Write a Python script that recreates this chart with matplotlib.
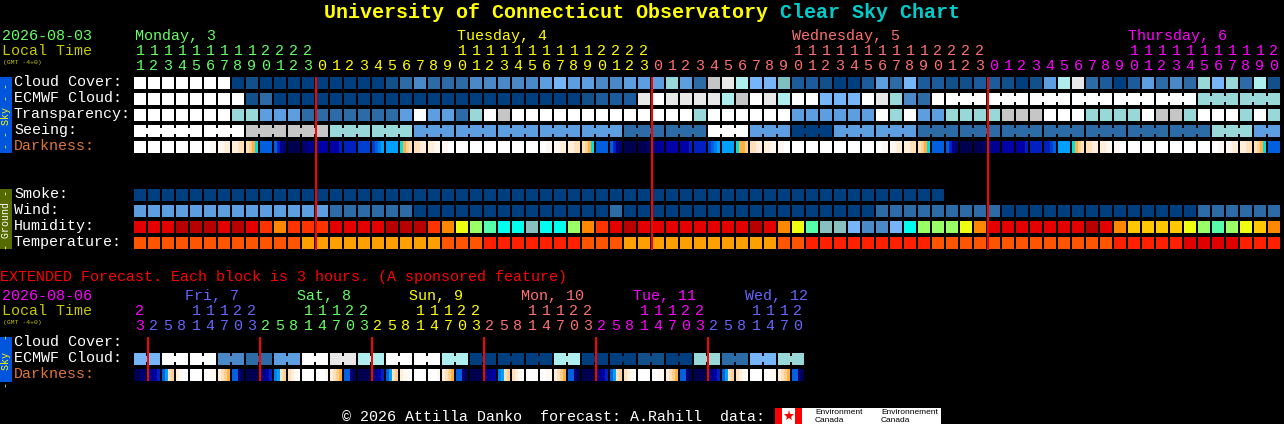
import matplotlib
matplotlib.use("Agg")
import matplotlib.pyplot as plt

plt.rcParams['font.family'] = ['Liberation Mono', 'DejaVu Sans Mono']

#---------------- colours of the blocks -----------------#
block_colours = {
    'A': '#003f7f', 'B': '#12508c', 'C': '#1c5c9c', 'D': '#2c6ba6', 'E': '#4a88c8',
    'F': '#5c9ee0', 'G': '#77b5f9', 'H': '#99d8d8', 'I': '#aeeeee', 'J': '#e8e8e8',
    'K': '#c6c6c6', 'L': '#7fbfbf', 'W': '#ffffff',
    'm': '#b80000', 'n': '#e40000', 'o': '#ff3300', 'p': '#ff8800', 'q': '#ffc800',
    'y': '#eeff11', 'l': '#99ff66', 'k': '#55ffaa', 'c': '#00ffee', 't': '#88c0c0',
    'u': '#ff5500', 'v': '#ffa000', 'x': '#ff2000', 'z': '#e00000',
}
dark_colours = {
    '0': '#ffffff', '1': '#fff8f0', '2': '#ffeeda', '3': '#ffe0bb', '4': '#ffd090',
    '5': '#ffb040', '6': '#00e0e0', '7': '#00a0ff', '8': '#0080f0', '9': '#0060e0',
    'a': '#0040d0', 'b': '#0020c0', 'c': '#0000a8', 'd': '#000090', 'e': '#000070',
    'f': '#000050',
}

#---------------- hourly forecast -----------------#
cloud_cover = ("WWWWWWWABA" "AAAAAAAABD" "EDDDEEEEEF" "GFFEEFFFHF" "DKJIGGLCCB"
               "AACFDGCCBB" "CCBABFIJDC" "ACFDEDHGHD" "IB")
ecmwf_cloud = ("WWWWWWWWBD" "AAAAAAAAAA" "AAAAAAAAAA" "AABCCCJWJJ" "JJIKWJIWWG"
               "GGWJHEDWWW" "WWWWWWWWWW" "WWWWWWHHHH" "HH")
transparency = ("WWWWWWWHHF" "FFDDDDDDDF" "WFFDHWKWWW" "WWWWWWWWWW" "HWWWWWWFFF"
                "FFFWHWFFHH" "HHKKKWWWHH" "HHWKKHWWWH" "WH")
seeing = ("WWWWWWWWKK" "KKKKHHHHHH" "FFFFFFFFFF" "FFFFFDDDDD" "DWWWFFFAAA"
          "FFFFFFDDDD" "DDDDDDDDDD" "DDDDDDDHHH" "FF")
smoke = "A" * 58
wind = ("FFFFFFFFFF" "FFFFDDDDDD" "AAAAAAAAAA" "AAAADAAAAA" "AAAAAAAAAA"
        "AAADDDDDDD" "DDAAAAAAAA" "AAAAAADDDD" "DD")
humidity = ("nnnmmmnmno" "pooonnnnmm" "mopylkcctc" "clponmnnnn" "nnnnmnpykt"
            "tGEEGcllly" "pnnnnnnnmn" "pqqqqylkly" "qp")
temperature = ("uuuuuuuuuu" "uuvvvvvvvv" "vvuuuxxxxx" "xxuuuvvvvv" "vvvvvvuuxx"
               "xxxxxxxuuu" "uuuuuuuuuu" "xxxxxzzzzx" "xx")
darkness = ["0000", "0000", "0000", "0000", "0000", "0011", "1122", "2233", "3456", "9999",
            "9bde", "ffff", "eedd", "dccc", "cccb", "bbbb", "aaaa", "a987", "7777", "6543",
            "3322", "2211", "1100", "0000", "0000", "0000", "0000", "0000", "0000", "0011",
            "1122", "2233", "3456", "9999", "9bde", "ffff", "fffe", "dddc", "cccc", "cccb",
            "bbbb", "a987", "7777", "6554", "3322", "2211", "1100", "0000", "0000", "0000",
            "0000", "0000", "0000", "0011", "1122", "2233", "3456", "9999", "9bde", "ffff",
            "fffe", "dddd", "cccc", "cccb", "bbbb", "bba9", "7777", "6543", "3322", "2211",
            "1100", "0000", "0000", "0000", "0000", "0000", "0000", "0011", "1122", "2233",
            "3456", "9999"]

# first column of each linked run of blocks
seeing_links = [0, 2, 5, 8, 11, 14, 17, 20, 23, 26, 29, 32, 35, 38, 41, 44, 47, 50, 53, 56,
                59, 62, 65, 68, 71, 74, 77, 80]
ecmwf_links = [58, 61, 64, 67, 70, 73, 76, 79]

hour_midnights = [13, 37, 61]
hour_tens = "111111111" "2222" "          11111111112222" "          11111111112222" "          11111111112"
hour_units = "1234567890123" "012345678901234567890123" "012345678901234567890123" "012345678901234567890"
hour_day_runs = [(13, '#66ff66'), (24, '#ffff00'), (24, '#ff7070'), (21, '#ff00ff')]
day_names = ["Monday, 3", "Tuesday, 4", "Wednesday, 5", "Thursday, 6"]
day_x = [135, 457, 792, 1128]
day_colours = ['#66ff66', '#ffff00', '#ff7070', '#ff00ff']

#---------------- extended forecast -----------------#
ext_ecmwf = "GWWEDFWJIWWIAAAIAABAHDGH"
ext_darkness = ["ffee", "ddcb", "9734", "2100", "0000", "0011", "2345", "99ef",
                "ffff", "edcb", "8734", "3210", "0000", "0001", "2345", "99ef",
                "ffff", "edcb", "9734", "2110", "0000", "0001", "2345", "99ef",
                "ffff", "eddc", "8734", "3210", "0000", "0011", "2345", "99ef",
                "ffff", "edcb", "9734", "3210", "0000", "0011", "2345", "99ef",
                "ffff", "edcb", "9734", "3210", "0000", "0011", "2345", "99ef"]
ext_midnights = [1, 9, 17, 25, 33, 41]
ext_tens = "2" + "   11122" * 5 + "   1112"
ext_units = "3" + "25814703" * 5 + "2581470"
ext_day_runs = [(1, '#ff00ff'), (8, '#6666ff'), (8, '#66ff66'), (8, '#ffff00'),
                (8, '#ff7070'), (8, '#ff00ff'), (7, '#6666ff')]
ext_names = ["Fri, 7", "Sat, 8", "Sun, 9", "Mon, 10", "Tue, 11", "Wed, 12"]
ext_x = [185, 297, 409, 521, 633, 745]
ext_colours = ['#6666ff', '#66ff66', '#ffff00', '#ff7070', '#ff00ff', '#6666ff']

#---------------- layout -----------------#
LEFT = 134
PITCH = 14
SIZE = 12
FS = 10.8

fig = plt.figure(figsize=(12.84, 4.24), dpi=100, facecolor='black')
ax = fig.add_axes([0, 0, 1, 1])
ax.set_xlim(0, 1284)
ax.set_ylim(424, 0)
ax.axis('off')


def box(x, y, w, h, colour):
    ax.bar(x, h, width=w, bottom=y, align='edge', color=colour, linewidth=0)


def row(values, top):
    for i, v in enumerate(values):
        box(LEFT + i * PITCH, top, SIZE, SIZE, block_colours[v])


def links(values, top, starts, run=3):
    # little bridge over the gap between blocks of one forecast step
    for s in starts:
        for i in range(s, s + run - 1):
            if i + 1 < len(values):
                box(LEFT + i * PITCH + SIZE, top + 3, PITCH - SIZE, 6, block_colours[values[i]])


def dark_row(values, top):
    for i, cell in enumerate(values):
        for j, v in enumerate(cell):
            box(LEFT + i * PITCH + j * 3, top, 3, SIZE, dark_colours[v])


def label(x, y, s, colour='white', **kw):
    kw.setdefault('fontsize', FS)
    ax.text(x, y + 0.8, s, color=colour, va='center', ha=kw.pop('ha', 'left'), **kw)


def digits(tens, units, runs, y_tens, y_units):
    start = 0
    for count, colour in runs:
        for i in range(start, start + count):
            x = LEFT + i * PITCH + SIZE / 2
            if tens[i] != ' ':
                label(x, y_tens, tens[i], colour, ha='center')
            label(x, y_units, units[i], colour, ha='center')
        start += count


def red_lines(cols, y0, y1):
    for c in cols:
        box(LEFT + c * PITCH - 1, y0, 2, y1 - y0, '#ff0000')


#---------------- title -----------------#
label(324, 11.5, "University of Connecticut Observatory", '#ffff00', fontsize=14.4, fontweight='bold')
label(780, 11.5, "Clear Sky Chart", '#00cccc', fontsize=14.4, fontweight='bold')

#---------------- header -----------------#
label(2, 35, "2026-08-03", '#66ff66')
label(2, 50, "Local Time", '#c8c800')
label(3, 62, "(GMT -4+0)", '#c8c800', fontsize=4.6)
for name, x, c in zip(day_names, day_x, day_colours):
    label(x, 35, name, c)
digits(hour_tens, hour_units, hour_day_runs, 50, 65)

#---------------- main rows -----------------#
row(cloud_cover, 77)
row(ecmwf_cloud, 93)
links(ecmwf_cloud, 93, ecmwf_links)
row(transparency, 109)
row(seeing, 125)
links(seeing, 125, seeing_links)
dark_row(darkness, 141)
row(smoke, 189)
row(wind, 205)
row(humidity, 221)
row(temperature, 237)
red_lines(hour_midnights, 77, 250)

row_labels = [("Cloud Cover:", 81), ("ECMWF Cloud:", 97), ("Transparency:", 113), ("Seeing:", 129),
              ("Smoke:", 193), ("Wind:", 209), ("Humidity:", 225), ("Temperature:", 241)]
for s, y in row_labels:
    label(14, y, s)
label(14, 145, "Darkness:", '#dd7733')

box(0, 77, 12, 76, '#0055dd')
label(6, 115, "- - Sky - -", '#ffff00', ha='center', rotation=90, fontsize=7.2)
box(0, 189, 12, 60, '#556b00')
label(6, 219, "- Ground -", 'white', ha='center', rotation=90, fontsize=7.2)

#---------------- extended -----------------#
label(0, 276.5, "EXTENDED Forecast. Each block is 3 hours. (A sponsored feature)", '#ff0000')
label(2, 295, "2026-08-06", '#ff00ff')
label(2, 310, "Local Time", '#c8c800')
label(3, 322, "(GMT -4+0)", '#c8c800', fontsize=4.6)
for name, x, c in zip(ext_names, ext_x, ext_colours):
    label(x, 295, name, c)
digits(ext_tens, ext_units, ext_day_runs, 310, 325)

ext_cells = [v for v in ext_ecmwf for _ in range(2)]
row(ext_cells, 353)
links(ext_cells, 353, list(range(0, 48, 2)), run=2)
dark_row(ext_darkness, 369)
red_lines(ext_midnights, 337, 381)

label(14, 341, "Cloud Cover:")
label(14, 357, "ECMWF Cloud:")
label(14, 373, "Darkness:", '#dd7733')
box(0, 337, 12, 45, '#0055dd')
label(6, 360, "-  Sky  -", '#ffff00', ha='center', rotation=90, fontsize=7.2)

#---------------- footer -----------------#
label(342, 416, "\u00a9 2026 Attilla Danko  forecast: A.Rahill  data:")
box(775, 408, 166, 16, '#ffffff')
box(775, 408, 7, 16, '#ff0000')
box(795, 408, 7, 16, '#ff0000')
ax.plot(788.5, 416, marker='*', ms=8, color='#ff0000', mew=0)
for x, s in [(815, "Environment"), (881, "Environnement")]:
    label(x, 412, s, 'black', fontsize=6, family='Liberation Sans')
    label(x, 420, "Canada", 'black', fontsize=6, family='Liberation Sans')

fig.savefig("out.png", dpi=100, facecolor='black')
